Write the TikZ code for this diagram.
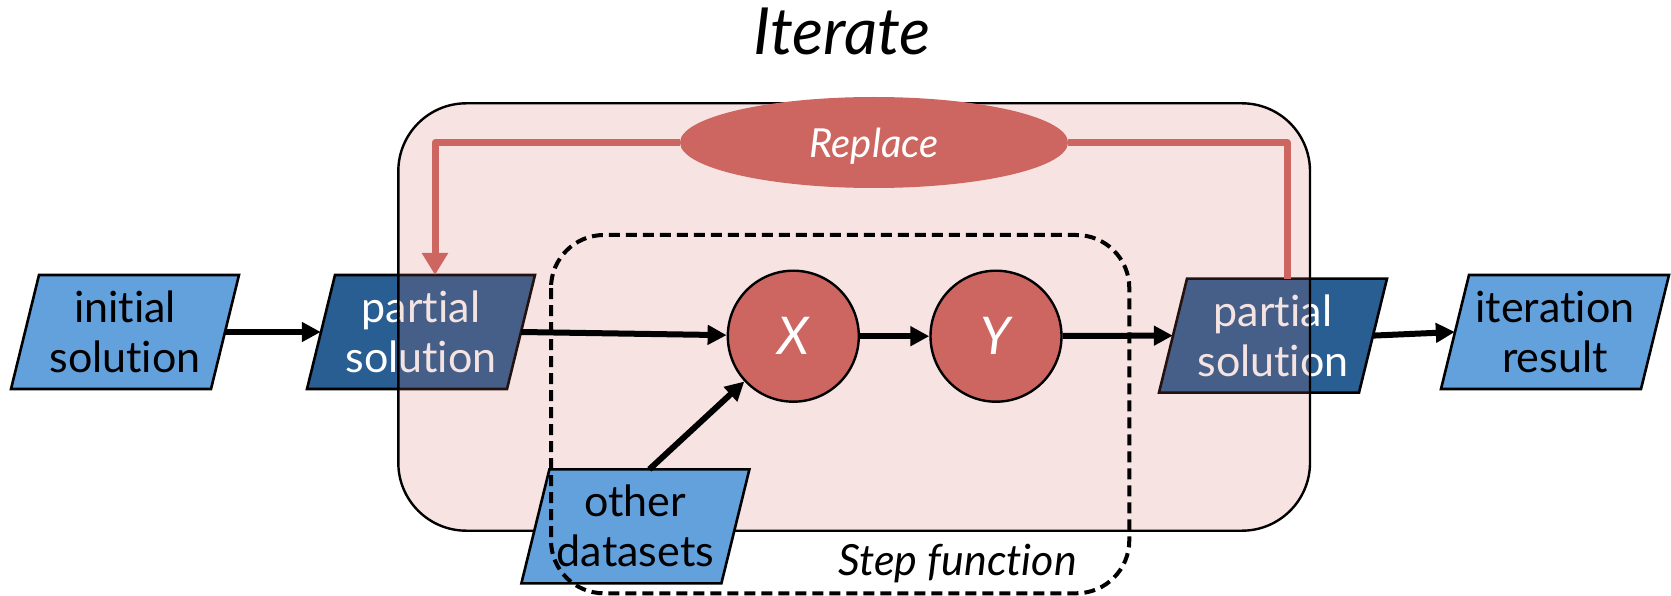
\documentclass[tikz,border=0pt]{standalone}
\usepackage{fontspec}
\setmainfont{Lato}[RawFeature={-liga,-dlig}]
\usetikzlibrary{arrows.meta,calc,shapes.geometric}

\definecolor{lightblue}{RGB}{99,161,221}
\definecolor{darkblue}{RGB}{40,94,145}
\definecolor{redfill}{RGB}{205,102,97}

% parallelogram data box: name, centre, fill, text colour, text
\newcommand\databox[5]{%
  \filldraw[boxline, fill=#3] ($(#2)+(-86,-57)$) -- ($(#2)+(114,-57)$)
    -- ($(#2)+(86,57)$) -- ($(#2)+(-114,57)$) -- cycle;
  \node[boxtext, text=#4] (#1) at (#2) {#5};
  \coordinate (#1-top) at ($(#2)+(14,-57)$);
}

\begin{document}
\begin{tikzpicture}[x=1pt, y=-1pt,
  boxline/.style={draw=black, line width=2.6pt},
  boxtext/.style={minimum width=200pt, minimum height=114pt, inner sep=0pt,
    align=center, font=\fontsize{43}{50}\selectfont},
  flow/.style={line width=6pt, -{Triangle[length=19pt,width=19pt]}},
  replaceline/.style={draw=redfill, line width=7pt, line join=round},
  opnode/.style={circle, draw=black, line width=2.4pt, fill=redfill,
    minimum size=131pt, inner sep=0pt, text=white, text depth=0pt,
    font=\itshape\fontsize{52}{60}\selectfont},
]
\useasboundingbox (0,0) rectangle (1671,596);

\node[anchor=base, font=\itshape\fontsize{65}{72}\selectfont] (title) at (842,55) {Iterate};

% inputs, partial solutions and result
\databox{init}{125,332}{lightblue}{black}{initial\\solution}
\databox{pL}{421,332}{darkblue}{white}{partial\\solution}
\databox{pR}{1273,335.6}{darkblue}{white}{partial\\solution}
\databox{iter}{1555,332}{lightblue}{black}{iteration\\result}

% iteration frame, tinted over what lies beneath
\draw[line width=2.4pt, fill=redfill, fill opacity=0.18, rounded corners=68pt]
  (398.3,103.3) rectangle (1310,530.7);

% replace feedback
\node[ellipse, fill=redfill, minimum width=388pt, minimum height=91pt, inner sep=0pt,
  text=white, text depth=0pt, font=\itshape\fontsize{40}{46}\selectfont]
  (rep) at (874,142.5) {Replace};
\draw[replaceline, -{Triangle[length=22pt,width=25pt]}] (rep.west) -| (pL-top);
\draw[replaceline] (rep.east) -| (pR-top);

% step function operators
\node[opnode] (X) at (793.3,336.2) {X};
\node[opnode] (Y) at (996,336.2) {Y};

\databox{od}{635.4,526.3}{lightblue}{black}{other\\datasets}

% step function frame
\draw[line width=4pt, dash pattern=on 11pt off 6pt, rounded corners=53pt]
  (551,235) rectangle (1129.3,593.3);
\node[anchor=base west, font=\itshape\fontsize{43}{50}\selectfont] (steplabel) at (835,575) {Step function};

% data flow
\draw[flow] (init.east) -- (pL.west);
\draw[flow] (pL.east) -- (X);
\draw[flow] (X) -- (Y);
\draw[flow] (Y) -- (pR.west);
\draw[flow] (pR.east) -- (iter.west);
\draw[flow] (od-top) -- (X);
\end{tikzpicture}
\end{document}
